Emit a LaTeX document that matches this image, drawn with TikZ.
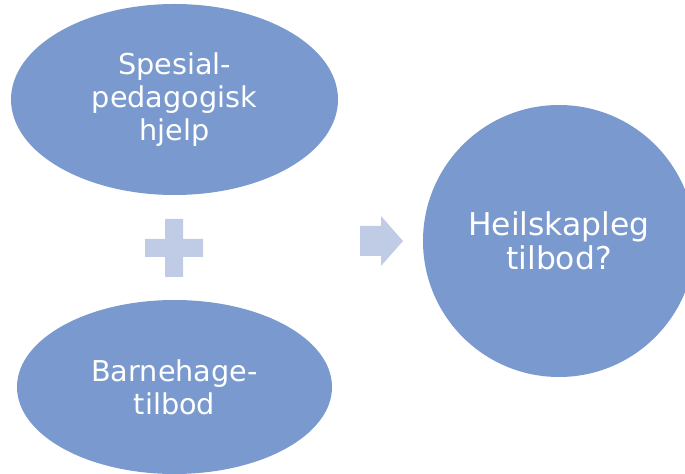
\documentclass[tikz,border=0pt]{standalone}
\usepackage{fontspec}
\setmainfont{DejaVu Sans}
\usetikzlibrary{shapes.geometric}
\definecolor{mainblue}{RGB}{122,153,206}
\definecolor{lightblue}{RGB}{192,204,230}
\tikzset{
  blob/.style={fill=mainblue, draw=none, inner sep=0pt, text=white, align=center,
    font=\fontsize{28.8}{33}\selectfont},
  oval/.style={blob, ellipse},
  disc/.style={blob, circle, font=\fontsize{31.5}{34}\selectfont},
  sign/.style={fill=lightblue, draw=none}
}
\begin{document}
\begin{tikzpicture}[x=1bp,y=-1bp]
\useasboundingbox (0,0) rectangle (685,474);
\node[oval, minimum width=327bp, minimum height=191bp] (spes) at (174.5,99.5) {Spesial-\\pedagogisk\\hjelp};
\node[oval, minimum width=315bp, minimum height=174bp] (barn) at (174.5,387) {Barnehage-\\tilbod};
\node[disc, minimum size=272bp] (heil) at (559,241) {Heilskapleg\\tilbod?};
% plus sign
\fill[sign] (165,219) -- (183,219) -- (183,239) -- (203,239) -- (203,257) -- (183,257)
  -- (183,277) -- (165,277) -- (165,257) -- (145,257) -- (145,239) -- (165,239) -- cycle;
% arrow
\fill[sign] (360,226) -- (381,226) -- (381,216) -- (403,241) -- (381,266) -- (381,256)
  -- (360,256) -- cycle;
\end{tikzpicture}
\end{document}
